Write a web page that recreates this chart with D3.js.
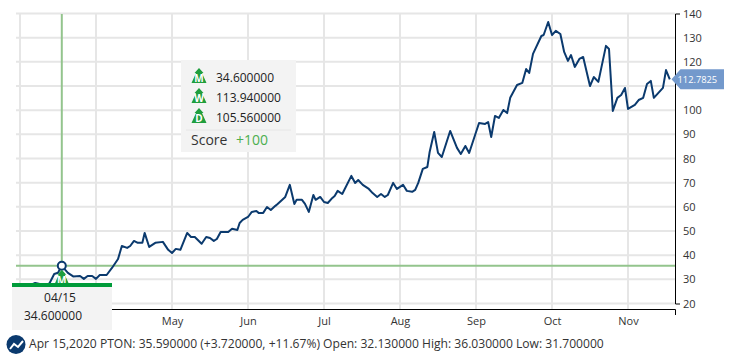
<!DOCTYPE html>
<html>
<head>
<meta charset="utf-8">
<script src="https://cdn.jsdelivr.net/npm/d3@7"></script>
<style>
    body { margin: 0; background: #fff; }
    svg { display: block; font-family: "Open Sans", sans-serif; }
    .axis .domain { stroke: #000; fill: none; }
</style>
</head>
<body>
<svg id="chart" width="736" height="362"></svg>
<script>
// position along the x axis, in months counted from the first gridline
const closeMonths = [
    0.03, 0.11, 0.20, 0.26, 0.34, 0.39, 0.45, 0.50, 0.55, 0.63, 0.70, 0.79, 0.84, 0.89, 0.95, 1.00, 1.05, 1.14, 1.21, 1.29,
    1.34, 1.41, 1.45, 1.50, 1.55, 1.61, 1.64, 1.70, 1.78, 1.88, 1.95, 2.00, 2.05, 2.11, 2.20, 2.25, 2.30, 2.39, 2.45, 2.50,
    2.55, 2.59, 2.64, 2.74, 2.79, 2.86, 2.89, 2.93, 3.00, 3.05, 3.11, 3.14, 3.20, 3.25, 3.30, 3.36, 3.39, 3.49, 3.55, 3.61,
    3.64, 3.71, 3.75, 3.80, 3.86, 3.89, 3.95, 4.00, 4.05, 4.11, 4.14, 4.18, 4.24, 4.36, 4.41, 4.45, 4.51, 4.59, 4.64, 4.70,
    4.75, 4.80, 4.84, 4.91, 4.96, 5.04, 5.09, 5.16, 5.20, 5.24, 5.30, 5.36, 5.39, 5.45, 5.50, 5.55, 5.66, 5.75, 5.80, 5.86,
    5.91, 6.04, 6.12, 6.16, 6.20, 6.25, 6.30, 6.36, 6.41, 6.45, 6.54, 6.61, 6.66, 6.70, 6.75, 6.86, 6.89, 6.95, 7.00, 7.05,
    7.11, 7.16, 7.21, 7.25, 7.30, 7.36, 7.41, 7.50, 7.55, 7.61, 7.71, 7.75, 7.80, 7.86, 7.91, 7.96, 8.00, 8.09, 8.14, 8.20,
    8.25, 8.30, 8.34, 8.46, 8.50, 8.55
];
const closePrices = [
    26.4, 27.3, 28.5, 28.1, 26.9, 28.5, 32.2, 32.7, 35.59, 32.7, 31.2, 31.4, 30.2, 31.4, 31.4, 30.2, 31.8, 31.8, 34.7, 38.4,
    43.8, 43.0, 43.8, 45.9, 45.1, 45.1, 49.2, 43.4, 45.1, 45.5, 42.2, 40.9, 42.6, 42.2, 49.2, 47.5, 47.5, 44.7, 47.5, 47.1,
    45.9, 46.7, 49.6, 49.6, 50.9, 50.4, 53.3, 54.6, 55.8, 57.9, 58.3, 57.5, 57.5, 59.9, 58.7, 60.4, 61.2, 64.1, 69.1, 61.2,
    62.9, 62.9, 61.2, 57.9, 64.9, 62.9, 64.1, 62.0, 61.6, 63.7, 64.5, 66.6, 65.3, 72.8, 69.9, 71.1, 69.1, 67.4, 65.7, 64.1,
    65.3, 64.1, 64.9, 69.9, 67.4, 69.1, 66.6, 66.2, 67.0, 69.9, 75.7, 76.5, 82.7, 91.0, 82.3, 80.6, 91.4, 84.4, 81.9, 85.2,
    82.3, 94.7, 94.3, 95.1, 88.9, 97.6, 96.8, 100.1, 98.8, 105.1, 110.4, 111.3, 117.0, 115.4, 123.3, 130.7, 131.1, 136.5, 131.1, 132.8,
    131.5, 124.1, 120.4, 122.8, 117.9, 121.2, 122.0, 110.0, 113.7, 111.7, 126.6, 125.3, 99.7, 105.1, 106.3, 109.2, 100.5, 102.2, 104.2, 105.1,
    110.8, 112.1, 105.1, 109.2, 116.6, 112.78
];
// first two month labels sit under the date tooltip in the picture, so they stay blank
const monthLabels = ["", "", "May", "Jun", "Jul", "Aug", "Sep", "Oct", "Nov"];
const priceTicks = [20, 30, 40, 50, 60, 70, 80, 90, 100, 110, 120, 130, 140];
const hiddenPriceLabels = [110]; // sits under the last price badge

const lastPrice = "112.7825";
const cursorMonth = 0.55;
const cursorPrice = 35.59;
const cursorDate = "04/15";
const cursorValue = "34.600000";
const ratingLetters = ["M", "W", "D"];
const ratingValues = ["34.600000", "113.940000", "105.560000"];
const scoreText = "+100";
const statusText = "Apr 15,2020 PTON: 35.590000 (+3.720000, +11.67%) Open: 32.130000 High: 36.030000 Low: 31.700000";

const svg = d3.select("#chart");
const plotLeft = 16, plotRight = 675, plotTop = 14, plotBottom = 309;

const xScale = d3.scaleLinear().domain([0, 8]).range([20, 628]);
const yScale = d3.scaleLinear().domain([20, 140]).range([303.5, 13.5]);

// gridlines
svg.append("g").selectAll("line")
    .data(priceTicks)
    .enter().append("line")
    .attr("x1", plotLeft)
    .attr("x2", plotRight)
    .attr("y1", (d) => yScale(d))
    .attr("y2", (d) => yScale(d))
    .attr("stroke", "#e6e6e6")
    .attr("stroke-width", 2);

svg.append("g").selectAll("line")
    .data(d3.range(monthLabels.length))
    .enter().append("line")
    .attr("x1", (d) => xScale(d))
    .attr("x2", (d) => xScale(d))
    .attr("y1", plotTop)
    .attr("y2", plotBottom)
    .attr("stroke", "#e6e6e6")
    .attr("stroke-width", 2);

// axes
const xAxis = d3.axisBottom(xScale)
    .tickValues(d3.range(monthLabels.length))
    .tickFormat((d) => monthLabels[d])
    .tickSize(0)
    .tickPadding(8);
const xAxisG = svg.append("g")
    .attr("class", "axis")
    .attr("transform", `translate(0,${plotBottom})`)
    .call(xAxis);
xAxisG.select(".domain").attr("d", `M${plotLeft},0.5H${plotRight + 0.5}V6`);
xAxisG.selectAll("text").attr("font-size", 11).attr("font-family", '"Open Sans", sans-serif').attr("fill", "#333");

const yAxis = d3.axisRight(yScale)
    .tickValues(priceTicks)
    .tickFormat((d) => hiddenPriceLabels.includes(d) ? "" : d)
    .tickSizeInner(0)
    .tickSizeOuter(5)
    .tickPadding(8);
const yAxisG = svg.append("g")
    .attr("class", "axis")
    .attr("transform", `translate(${plotRight},0)`)
    .call(yAxis);
yAxisG.selectAll("text").attr("font-size", 11).attr("font-family", '"Open Sans", sans-serif').attr("fill", "#333");

// crosshair
svg.append("line")
    .attr("x1", xScale(cursorMonth)).attr("x2", xScale(cursorMonth))
    .attr("y1", plotTop).attr("y2", yScale(cursorPrice))
    .attr("stroke", "#93c48d").attr("stroke-width", 2);
svg.append("line")
    .attr("x1", plotLeft).attr("x2", plotRight)
    .attr("y1", yScale(cursorPrice)).attr("y2", yScale(cursorPrice))
    .attr("stroke", "#93c48d").attr("stroke-width", 2);

// price line
const line = d3.line()
    .x((d, i) => xScale(closeMonths[i]))
    .y((d) => yScale(d));
svg.append("path")
    .datum(closePrices)
    .attr("d", line)
    .attr("fill", "none")
    .attr("stroke", "#0b3a6e")
    .attr("stroke-width", 2)
    .attr("stroke-linejoin", "round");

svg.append("circle")
    .attr("cx", xScale(cursorMonth))
    .attr("cy", yScale(cursorPrice))
    .attr("r", 4)
    .attr("fill", "#fff")
    .attr("stroke", "#0b3a6e")
    .attr("stroke-width", 2);

// little rating icon: an up arrow on a triangle with a letter in it
function ratingIcon(g, cx, baseY, letter) {
    g.append("path")
        .attr("d", `M${cx},${baseY - 15}l-4.5,5h1.5l-4.5,10h15l-4.5,-10h1.5z`)
        .attr("fill", "#1f9e3e");
    g.append("text")
        .attr("x", cx)
        .attr("y", baseY - 0.7)
        .attr("text-anchor", "middle")
        .attr("font-size", 10)
        .attr("font-weight", 700)
        .attr("fill", "#fff")
        .text(letter);
}

ratingIcon(svg.append("g"), xScale(cursorMonth), yScale(cursorPrice) + 19, "M");

// last price badge
const lastY = yScale(closePrices[closePrices.length - 1]);
svg.append("path")
    .attr("d", `M671.5,${lastY}l9,-10h43.5v20h-43.5z`)
    .attr("fill", "#7399cc");
svg.append("text")
    .attr("x", 677.5)
    .attr("y", lastY + 3.5)
    .attr("font-size", 9.3)
    .attr("fill", "#fff")
    .text(lastPrice);

// rating box
const box = svg.append("g");
box.append("rect")
    .attr("x", 181).attr("y", 60).attr("width", 115).attr("height", 92)
    .attr("fill", "#f3f3f3");
const rowY = d3.scalePoint().domain(ratingLetters).range([83, 123]);
ratingLetters.forEach((letter, i) => {
    ratingIcon(box.append("g"), 199, rowY(letter), letter);
    box.append("text")
        .attr("x", 216)
        .attr("y", rowY(letter) - 1)
        .attr("font-size", 12)
        .attr("fill", "#222")
        .text(ratingValues[i]);
});
box.append("line")
    .attr("x1", 186).attr("x2", 291).attr("y1", 130).attr("y2", 130)
    .attr("stroke", "#e6e6e6");
box.append("text")
    .attr("x", 191).attr("y", 145)
    .attr("font-size", 14).attr("fill", "#333")
    .text("Score");
box.append("text")
    .attr("x", 236).attr("y", 145)
    .attr("font-size", 14).attr("fill", "#4caf50")
    .text(scoreText);

// date tooltip
const tip = svg.append("g");
tip.append("rect")
    .attr("x", 12).attr("y", 283).attr("width", 100).attr("height", 47)
    .attr("fill", "#f3f3f3");
tip.append("rect")
    .attr("x", 12).attr("y", 283).attr("width", 100).attr("height", 4)
    .attr("fill", "#009b3a");
tip.append("text")
    .attr("x", 60).attr("y", 302)
    .attr("text-anchor", "middle")
    .attr("font-size", 12).attr("fill", "#222")
    .text(cursorDate);
tip.append("text")
    .attr("x", 53).attr("y", 320)
    .attr("text-anchor", "middle")
    .attr("font-size", 12).attr("fill", "#222")
    .text(cursorValue);

// footer
svg.append("circle").attr("cx", 16).attr("cy", 344.5).attr("r", 9.5).attr("fill", "#0b3a6e");
svg.append("path")
    .attr("d", "M10,349l4,-5l4,3l5,-6")
    .attr("fill", "none").attr("stroke", "#fff").attr("stroke-width", 2);
svg.append("text")
    .attr("x", 29).attr("y", 348)
    .attr("font-size", 12.1).attr("fill", "#333")
    .text(statusText);
</script>
</body>
</html>
